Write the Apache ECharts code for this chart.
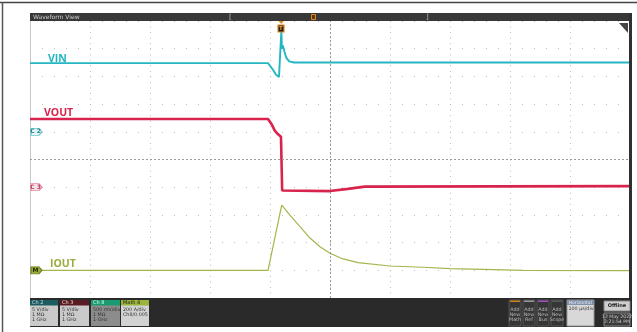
<!DOCTYPE html>
<html>
<head>
<meta charset="utf-8">
<script src="https://cdn.jsdelivr.net/npm/echarts@6/dist/echarts.min.js"></script>
<style>
  html, body { margin: 0; padding: 0; background: #fff; }
  #scope { width: 637px; height: 332px; }
</style>
</head>
<body>
<div id="scope"></div>
<script>
// time in us (100 us/div, 10 div across)
var vinTime  = [0, 396.7, 400, 405, 410, 415, 418.3, 419.0, 419.8, 421.5, 424, 427, 432, 440, 1000];
var vinVolts = [12.4, 12.4, 12.2, 11.2, 10.3, 9.9, 10.2, 18.4, 15.0, 15.6, 14.5, 13.4, 12.7, 12.5, 12.5];

var voutTime  = [0, 396.7, 400, 403, 408, 413, 418.3, 419.5, 420.3, 422.5, 500, 530, 558, 1000];
var voutVolts = [12.3, 12.3, 12.0, 11.3, 10.2, 9.6, 9.1, 9.0, -0.6, -0.8, -0.7, -0.3, 0.1, 0.2];

var ioutTime = [0, 396.7, 419.5, 433.3, 450, 466.7, 483.3, 500, 521.7, 546.7, 600, 655, 700, 755, 821.7, 1000];
var ioutAmps = [0, 0, 471, 399, 315, 233, 170, 123, 82, 55, 31, 22, 12, 7, 0, -3];

// vertical scale per channel (units/div) and ground position (div from centre)
var ch2 = { perDiv: 5, ground: 1 };
var ch3 = { perDiv: 5, ground: -1 };
var math4 = { perDiv: 200, ground: -4 };

function zip(xs, ys) {
  var out = [];
  for (var i = 0; i < xs.length; i++) out.push([xs[i], ys[i]]);
  return out;
}
function chAxis(ch) {
  return {
    type: 'value', show: false,
    min: (-5 - ch.ground) * ch.perDiv,
    max: (5 - ch.ground) * ch.perDiv,
    splitLine: { show: false }
  };
}
function tag(label, fill, stroke, txt) {
  return {
    symbol: 'path://M0,0 L8,0 L11,4 L8,8 L0,8 Z',
    symbolSize: [11, 7],
    symbolOffset: [6.5, 0],
    itemStyle: { color: fill, borderColor: stroke, borderWidth: 1 },
    label: {
      show: true, position: 'inside', formatter: label, color: txt, fontSize: 6,
      fontWeight: 'bold', fontFamily: 'DejaVu Sans', offset: [-1, 0]
    },
    data: [{ coord: [0, 0] }]
  };
}

var FONT = 'DejaVu Sans';
function txt(x, y, s, color, size, opts) {
  opts = opts || {};
  return {
    type: 'text', x: x, y: y, z: 100,
    style: {
      text: s, fill: color, fontSize: size, fontFamily: opts.family || FONT,
      fontWeight: opts.bold ? 'bold' : 'normal',
      align: opts.align || 'left', verticalAlign: 'middle'
    }
  };
}
function box(x, y, w, h, fill, stroke) {
  return {
    type: 'rect', z: 90, shape: { x: x, y: y, width: w, height: h },
    style: { fill: fill, stroke: stroke || null, lineWidth: 1 }
  };
}

var graphics = [
  // frame
  { type: 'line', z: 100, shape: { x1: 0, y1: 2.5, x2: 637, y2: 2.5 }, style: { stroke: '#444', lineWidth: 1.5 } },
  { type: 'line', z: 100, shape: { x1: 2.5, y1: 2, x2: 2.5, y2: 332 }, style: { stroke: '#555', lineWidth: 1.5 } },
  // header
  box(30, 13, 602, 8, '#383838'),
  txt(33, 17, 'Waveform View', '#cfcfcf', 6),
  txt(229, 17, '[', '#bbb', 7),
  txt(426, 17, ']', '#bbb', 7),
  { type: 'rect', z: 100, shape: { x: 311.5, y: 14.5, width: 4, height: 5 }, style: { fill: '#5a3a10', stroke: '#e08a1e', lineWidth: 1 } },
  { type: 'polygon', z: 100, shape: { points: [[278.5, 21], [284, 21], [281.2, 24]] }, style: { fill: '#e08a1e' } },
  { type: 'rect', z: 100, shape: { x: 278, y: 25, width: 6, height: 7 }, style: { fill: '#1c1c1c', stroke: '#e08a1e', lineWidth: 1.2 } },
  txt(281, 28.7, 'T', '#f0a040', 5.5, { bold: true, align: 'center' }),
  // corner triangle + right bar
  { type: 'polygon', z: 100, shape: { points: [[619, 23], [628, 23], [628, 33]] }, style: { fill: '#454545' } },
  box(625, 24, 2, 2, '#ddd'),
  box(629, 13, 3, 314, '#303030'),
  // trace labels
  txt(48, 59.5, 'VIN', '#22b5c0', 10.5, { bold: true, family: 'Open Sans' }),
  txt(44, 113.5, 'VOUT', '#d8234c', 10.5, { bold: true, family: 'Open Sans' }),
  txt(50, 264, 'IOUT', '#9bab3e', 10.5, { bold: true, family: 'Open Sans' }),
  // bottom bar
  box(30, 298, 602, 29, '#2a2a2a')
];

// channel badges
var badges = [
  { x: 30, w: 28, head: 'Ch 2', headFill: '#1d5c61', headTxt: '#cde', body: '#cacaca', lines: ['5 V/div', '1 MΩ', '1 GHz'] },
  { x: 60, w: 29, head: 'Ch 3', headFill: '#5a1c24', headTxt: '#edc', body: '#cacaca', lines: ['5 V/div', '1 MΩ', '1 GHz'] },
  { x: 91, w: 29, head: 'Ch 8', headFill: '#1a9a70', headTxt: '#dfe', body: '#8c8c8c', lines: ['500 mV/div', '1 MΩ', '1 GHz'] },
  { x: 121, w: 28, head: 'Math 4', headFill: '#9ab53a', headTxt: '#222', body: '#d2d2d2', lines: ['200 A/div', 'Ch8/0.005'] }
];
badges.forEach(function (b) {
  graphics.push(box(b.x, 300, b.w, 26, b.body));
  graphics.push(box(b.x, 300, b.w, 5.5, b.headFill));
  graphics.push(txt(b.x + 2, 302.8, b.head, b.headTxt, 5));
  b.lines.forEach(function (l, i) {
    graphics.push(txt(b.x + 2, 309.5 + i * 5.3, l, '#333', 4.8));
  });
});

// add-new buttons
var buttons = [
  { x: 509, strip: '#d08020', word: 'Math' },
  { x: 523, strip: '#9a9a9a', word: 'Ref' },
  { x: 537, strip: '#9a50c0', word: 'Bus' },
  { x: 551, strip: '#5a5a5a', word: 'Scope' }
];
buttons.forEach(function (b) {
  graphics.push(box(b.x, 300, 12, 26, '#363636', '#555'));
  graphics.push(box(b.x + 1, 300.5, 10, 1.5, b.strip));
  ['Add', 'New', b.word].forEach(function (l, i) {
    graphics.push(txt(b.x + 6, 310 + i * 5, l, '#bbb', 4.8, { align: 'center' }));
  });
});

// horizontal + offline + date
graphics.push(box(567, 300, 27, 26, '#d8d8d8', '#999'));
graphics.push(box(567, 300, 27, 5, '#7f8fa6'));
graphics.push(txt(568.5, 302.6, 'Horizontal', '#eef', 4.6));
graphics.push(txt(568.5, 309, '100 µs/div', '#333', 4.8));
graphics.push(box(604, 301, 26, 10, '#cfcfcf', '#888'));
graphics.push(txt(617, 306, 'Offline', '#222', 5, { bold: true, align: 'center' }));
graphics.push(box(604, 313, 26, 13, '#3a3a3a', '#888'));
graphics.push(txt(617, 317.2, '12 May 2022', '#ccc', 4.6, { align: 'center' }));
graphics.push(txt(617, 322.2, '2:21:54 PM', '#ccc', 4.6, { align: 'center' }));

var chart = echarts.init(document.getElementById('scope'));
var option = {
  animation: false,
  backgroundColor: '#ffffff',
  grid: { left: 30, top: 21, width: 600, height: 277 },
  xAxis: {
    type: 'value', min: 0, max: 1000, interval: 100,
    axisLabel: { show: false }, axisTick: { show: false }, axisLine: { show: false },
    splitLine: { show: true, lineStyle: { color: '#bdbdbd', width: 1, type: [1, 4.54] } }
  },
  yAxis: [
    {
      type: 'value', min: -5, max: 5, interval: 1,
      axisLabel: { show: false }, axisTick: { show: false },
      axisLine: { show: true, lineStyle: { color: '#c8c8c8', width: 1 } },
      splitLine: { show: true, lineStyle: { color: '#bdbdbd', width: 1, type: [1, 11] } }
    },
    chAxis(ch2),
    chAxis(ch3),
    chAxis(math4)
  ],
  series: [
    {
      name: 'centre', type: 'line', yAxisIndex: 0, data: [],
      markLine: {
        silent: true, symbol: 'none', label: { show: false },
        lineStyle: { color: '#9a9a9a', width: 1, type: [2, 2] },
        data: [{ xAxis: 500 }, { yAxis: 0 }]
      }
    },
    {
      name: 'IOUT', type: 'line', yAxisIndex: 3, showSymbol: false,
      data: zip(ioutTime, ioutAmps),
      lineStyle: { color: '#a6b44c', width: 1.2 }, itemStyle: { color: '#a6b44c' },
      markPoint: tag('M', '#9aab3c', '#6f7f22', '#1e2a00')
    },
    {
      name: 'VOUT', type: 'line', yAxisIndex: 2, showSymbol: false,
      data: zip(voutTime, voutVolts),
      lineStyle: { color: '#d8234c', width: 2.6 }, itemStyle: { color: '#d8234c' },
      markPoint: tag('C 3', '#fbe3e9', '#e58aa0', '#b83a58')
    },
    {
      name: 'VIN', type: 'line', yAxisIndex: 1, showSymbol: false,
      data: zip(vinTime, vinVolts),
      lineStyle: { color: '#25b6c1', width: 1.9 }, itemStyle: { color: '#25b6c1' },
      markPoint: tag('C 2', '#e2f5f7', '#6cc6cd', '#227e86')
    }
  ],
  graphic: graphics
};
chart.setOption(option);
window.addEventListener('resize', chart.resize);
</script>
</body>
</html>
